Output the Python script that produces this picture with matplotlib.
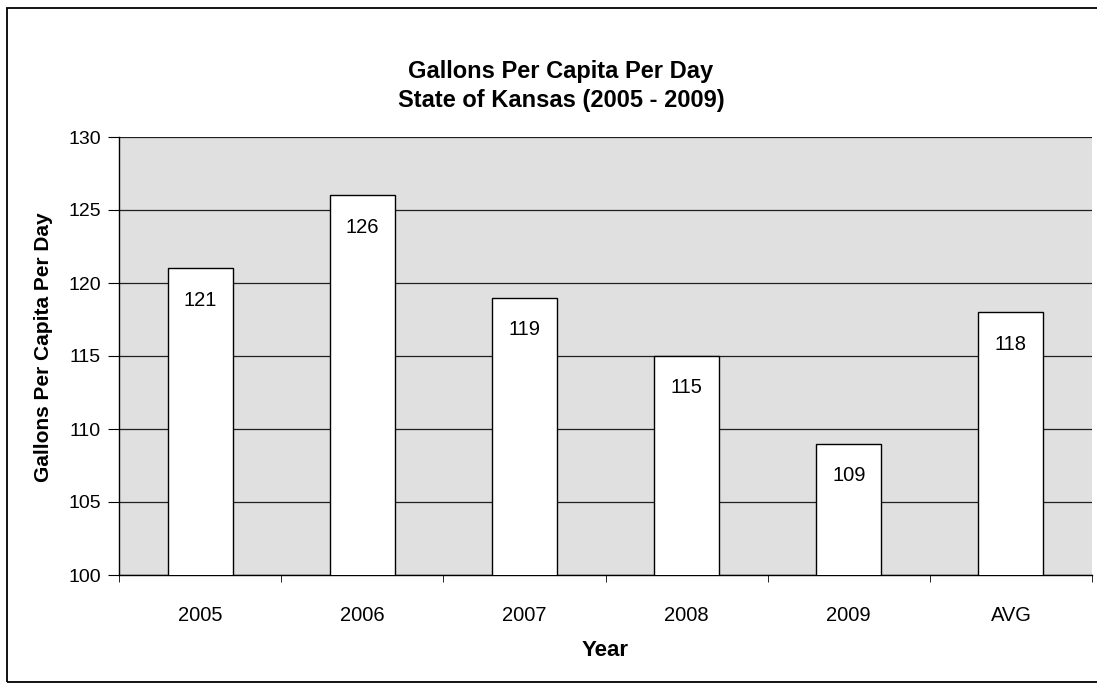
import matplotlib
matplotlib.use('Agg')
from matplotlib import pyplot as plt
from matplotlib.patches import Rectangle

years = ['2005', '2006', '2007', '2008', '2009', 'AVG']
gpcd = [121, 126, 119, 115, 109, 118]
y_ticks = [100, 105, 110, 115, 120, 125, 130]

plt.rcParams['font.family'] = ['Liberation Sans', 'DejaVu Sans']

W, H = 1097, 684
fig = plt.figure(figsize=(W / 100, H / 100), dpi=100)

# outer chart border (right edge is cut off in the scan)
fig.patches.append(Rectangle((7 / W, 2 / H), 1.2, 674 / H, transform=fig.transFigure,
                             fill=False, edgecolor='black', linewidth=1.3))

ax = fig.add_axes([119 / W, 1 - 575 / H, (1092 - 119) / W, (575 - 137) / H])
ax.set_facecolor('#e0e0e0')

x = list(range(len(years)))
ax.set_xlim(-0.5, len(years) - 0.5)
ax.set_ylim(100, 130)
ax.set_yticks(y_ticks)
ax.yaxis.grid(True, color='#202020', linewidth=0.9)
ax.set_axisbelow(True)

bars = ax.bar(x, gpcd, width=0.4, color='white', edgecolor='black', linewidth=1.0, zorder=3)
for xi, v in zip(x, gpcd):
    ax.annotate(str(v), xy=(xi, v), xytext=(0, -23), textcoords='offset points',
                ha='center', va='center', fontsize=14.5, zorder=4)

ax.set_xticks(x)
ax.set_xticklabels(years, fontsize=14.5)
ax.set_xticks([i - 0.5 for i in range(len(years) + 1)], minor=True)
ax.tick_params(axis='x', which='major', length=0, pad=22)
ax.tick_params(axis='x', which='minor', length=5, direction='out', color='black')
ax.tick_params(axis='y', labelsize=14, length=8, direction='out', pad=5)

for side in ['top', 'right']:
    ax.spines[side].set_visible(False)
ax.spines['left'].set_linewidth(1.0)
ax.spines['bottom'].set_linewidth(1.0)

ax.set_xlabel('Year', fontsize=16, fontweight='bold', labelpad=11)
ax.set_ylabel('Gallons Per Capita Per Day', fontsize=15, fontweight='bold')
ax.yaxis.set_label_coords(-66 / (1092 - 119), (575 - 347) / (575 - 137))

fig.text(561 / W, 1 - 86 / H, 'Gallons Per Capita Per Day\nState of Kansas (2005 - 2009)',
         ha='center', va='center', fontsize=17, fontweight='bold', linespacing=1.35)

fig.savefig('out.png', dpi=100)
